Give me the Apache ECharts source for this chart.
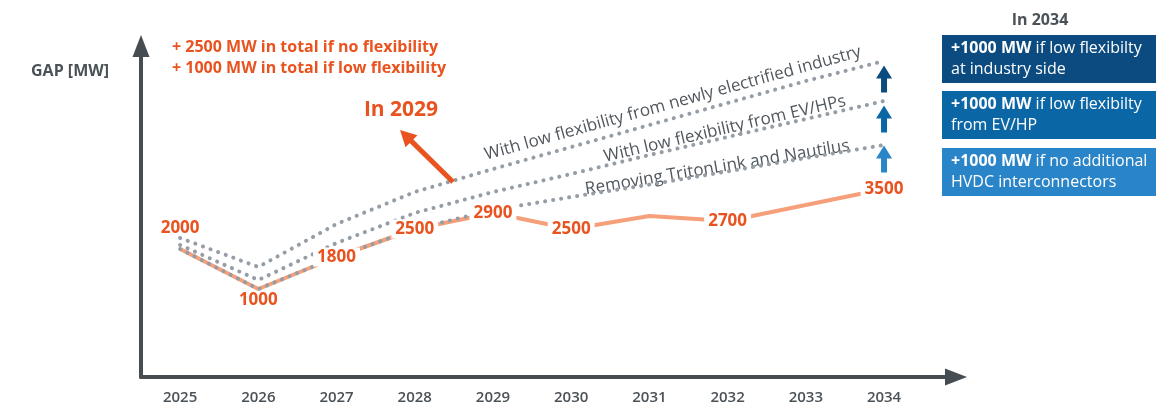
<!DOCTYPE html>
<html><head><meta charset="utf-8">
<script src="https://cdn.jsdelivr.net/npm/echarts@6/dist/echarts.min.js"></script>
<style>html,body{margin:0;padding:0;background:#fff}#c{width:1176px;height:407px}</style>
</head><body><div id="c"></div>
<script>
// ---- data ----
const years = [2025, 2026, 2027, 2028, 2029, 2030, 2031, 2032, 2033, 2034];
const gapValues = [2000, 1000, 1800, 2500, 2900, 2500, 2825, 2700, 3100, 3500];
const gapLabels = ['2000', '1000', '1800', '2500', '2900', '2500', '', '2700', '', '3500'];
const noHvdcValues = [2000, 1000, 1800, 2500, 2975, 3300, 3610, 3940, 4275, 4600];
const evhpValues = [2100, 1225, 2150, 2900, 3425, 3875, 4350, 4800, 5250, 5700];
const industryValues = [2275, 1550, 2625, 3425, 4000, 4550, 5100, 5650, 6200, 6700];
const arrowValues = [6250, 5250, 4250];
const lineTexts = ['With low flexibility from newly electrified industry', 'With low flexibility from EV/HPs', 'Removing TritonLink and Nautilus'];
const boxTexts = [
  ['+1000 MW', ' if low flexibilty', 'at industry side'],
  ['+1000 MW', ' if low flexibilty', 'from EV/HP'],
  ['+1000 MW', ' if no additional', 'HVDC interconnectors']
];
const noteTexts = ['+ 2500 MW in total if no flexibility', '+ 1000 MW in total if low flexibility'];

// ---- styling ----
const FONT = '"Open Sans", sans-serif';
const ORANGE_TXT = '#e9531f';
const ORANGE_LINE = '#f5a07a';
const DOT = '#959ea6';
const AXIS = '#454d53';
const DARK = '#4b5257';
const BLUES = ['#0c4b80', '#0b66a6', '#2a84c8'];
const arrowPath = 'path://M8,0 L16,13 L11,13 L11,27 L5,27 L5,13 L0,13 Z';

const pairs = vals => years.map((y, i) => [y, vals[i]]);

const labelData = years.map((y, i) => {
  const item = { value: [y, gapValues[i]] };
  if (!gapLabels[i]) item.label = { show: false };
  else if (i === 0) item.label = { position: 'top', distance: 12 };
  else if (i === 1) item.label = { position: 'bottom', distance: 2 };
  else item.label = { position: 'inside', backgroundColor: '#fff', padding: [1, 4] };
  return item;
});

const dotted = vals => ({
  type: 'line', data: pairs(vals), symbol: 'none', z: 3, silent: true,
  lineStyle: { color: DOT, width: 4, type: [0.1, 8], cap: 'round' }
});

const chart = echarts.init(document.getElementById('c'));
chart.setOption({
  animation: false,
  grid: { left: 141, right: 220, top: 46, bottom: 30 },
  xAxis: {
    type: 'value', min: 2024.5, max: 2034.92, interval: 0.5,
    axisLine: { show: true, onZero: false, symbol: ['none', 'triangle'], symbolSize: [17, 22], lineStyle: { color: AXIS, width: 4 } },
    axisTick: { show: false }, splitLine: { show: false },
    axisLabel: {
      margin: 13, color: DARK, fontSize: 15, fontWeight: 600, fontFamily: FONT,
      formatter: v => (Math.abs(v - Math.round(v)) < 1e-6 && v >= 2025 && v <= 2034) ? String(Math.round(v)) : ''
    }
  },
  yAxis: {
    type: 'value', min: -1200, max: 7075,
    axisLine: { show: true, onZero: false, symbol: ['none', 'triangle'], symbolSize: [17, 22], lineStyle: { color: AXIS, width: 4 } },
    axisTick: { show: false }, axisLabel: { show: false }, splitLine: { show: false }
  },
  series: [
    { type: 'line', data: pairs(gapValues), symbol: 'none', z: 2, silent: true,
      lineStyle: { color: ORANGE_LINE, width: 4 } },
    dotted(industryValues), dotted(evhpValues), dotted(noHvdcValues),
    { type: 'line', data: labelData, symbol: 'circle', symbolSize: 1, z: 5, silent: true,
      itemStyle: { opacity: 0 }, lineStyle: { opacity: 0 },
      label: { show: true, opacity: 1, formatter: p => gapLabels[p.dataIndex], color: ORANGE_TXT, fontSize: 17, fontWeight: 700, fontFamily: FONT },
      markLine: {
        silent: true, symbol: ['none', 'triangle'], symbolSize: [17, 16], label: { show: false },
        lineStyle: { color: ORANGE_TXT, width: 5, type: 'solid' },
        data: [[{ coord: [2028.49, 3675] }, { coord: [2027.885, 4835] }]]
      }
    },
    { type: 'scatter', symbol: arrowPath, symbolSize: [16, 27], z: 4, silent: true,
      data: arrowValues.map((v, i) => ({ value: [2034, v], itemStyle: { color: BLUES[i], opacity: 1 } })) }
  ]
});

// ---- annotations ----
const px = (x, y) => chart.convertToPixel({ gridIndex: 0 }, [x, y]);
function lineAnno(vals, text, atYear, gap) {
  const pts = years.map((y, i) => px(y, vals[i]));
  const i0 = Math.floor(atYear - years[0]);
  const t = atYear - years[i0];
  const a = pts[i0], b = pts[i0 + 1];
  const p = [a[0] + (b[0] - a[0]) * t, a[1] + (b[1] - a[1]) * t];
  const s = pts[4], e = pts[9];
  const ang = Math.atan2(s[1] - e[1], e[0] - s[0]);
  return { type: 'text', x: p[0], y: p[1], rotation: ang, silent: true,
    style: { text, x: 0, y: -gap, fill: '#50575d', font: '17px ' + FONT, align: 'center', verticalAlign: 'bottom', textAlign: 'center', textVerticalAlign: 'bottom' } };
}
const graphics = [
  lineAnno(industryValues, lineTexts[0], 2031.35, 6),
  lineAnno(evhpValues, lineTexts[1], 2031.99, 0),
  lineAnno(noHvdcValues, lineTexts[2], 2031.88, -3),
  { type: 'text', x: 70, y: 71, silent: true, style: { text: 'GAP [MW]', fill: DARK, font: 'bold 16px ' + FONT, align: 'center', verticalAlign: 'middle' } },
  { type: 'text', x: 172, y: 47, silent: true, style: { text: noteTexts[0], fill: ORANGE_TXT, font: 'bold 16px ' + FONT, align: 'left', verticalAlign: 'middle' } },
  { type: 'text', x: 172, y: 68, silent: true, style: { text: noteTexts[1], fill: ORANGE_TXT, font: 'bold 16px ' + FONT, align: 'left', verticalAlign: 'middle' } },
  { type: 'text', x: 401, y: 110, silent: true, style: { text: 'In 2029', fill: ORANGE_TXT, font: 'bold 21px ' + FONT, align: 'center', verticalAlign: 'middle' } },
  { type: 'text', x: 1040, y: 20, silent: true, style: { text: 'In 2034', fill: DARK, font: 'bold 16px ' + FONT, align: 'center', verticalAlign: 'middle' } }
];
const boxTops = [35, 91, 148];
boxTexts.forEach((bt, i) => {
  graphics.push({ type: 'rect', silent: true, shape: { x: 942, y: boxTops[i], width: 214, height: 48 }, style: { fill: BLUES[i] } });
  graphics.push({ type: 'text', x: 951, y: boxTops[i] + 24, silent: true,
    style: { text: '{b|' + bt[0] + '}' + bt[1] + '\n' + bt[2], fill: '#fff', font: '16px ' + FONT, lineHeight: 21,
      align: 'left', verticalAlign: 'middle',
      rich: { b: { fontWeight: 'bold', fontSize: 16, fontFamily: FONT, fill: '#fff', lineHeight: 21 } } } });
});
chart.setOption({ graphic: graphics });
</script>
</body></html>
